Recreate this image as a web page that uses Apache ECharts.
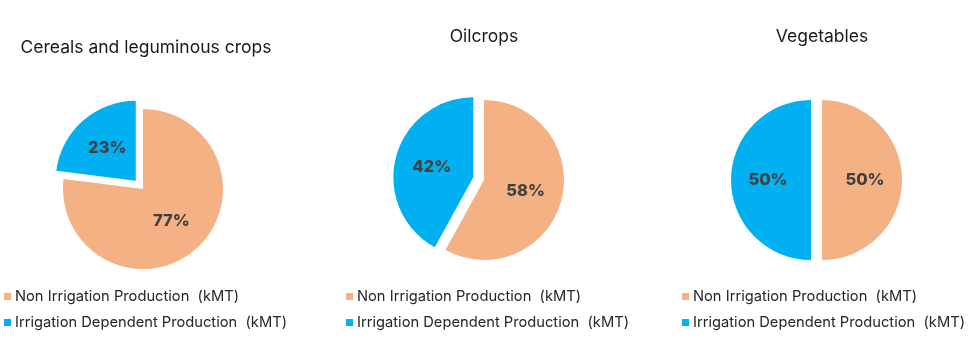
<!DOCTYPE html>
<html>
<head>
<meta charset="utf-8">
<script src="https://cdn.jsdelivr.net/npm/echarts@6/dist/echarts.min.js"></script>
<style>html,body{margin:0;padding:0;background:#fff}#c{width:970px;height:357px}</style>
</head>
<body>
<div id="c"></div>
<script>
const chartTitles = ["Cereals and leguminous crops", "Oilcrops", "Vegetables"];
const categories = ["Non Irrigation Production  (kMT)", "Irrigation Dependent Production  (kMT)"];
const nonIrrigation = [77, 58, 50];
const irrigationDependent = [23, 42, 50];
const colors = ["#F4B183", "#00B0F0"];

const FONT = "Inter";
const centers = [[143, 189], [484, 180], [822, 180]];
const titlePos = [[146, 39], [484, 28], [822, 28]];
const legendPos = [[4, 289], [346, 289], [682, 289]];

const chart = echarts.init(document.getElementById('c'), null, {renderer: 'canvas'});
const option = {
  animation: false,
  color: colors,
  title: chartTitles.map((t, i) => ({
    text: t,
    left: titlePos[i][0], top: titlePos[i][1],
    textAlign: 'center',
    padding: 0,
    textStyle: {fontFamily: FONT, fontSize: 17.5, fontWeight: 'normal', color: '#1a1a1a'}
  })),
  legend: legendPos.map(p => ({
    data: categories,
    orient: 'vertical',
    left: p[0], top: p[1],
    padding: 0,
    itemWidth: 7, itemHeight: 7, itemGap: 11,
    icon: 'rect',
    selectedMode: false,
    textStyle: {fontFamily: FONT, fontSize: 14.7, color: '#262626', padding: [0, 0, 0, -1]}
  })),
  series: chartTitles.map((t, i) => ({
    type: 'pie',
    name: t,
    center: centers[i],
    radius: 80,
    startAngle: 90,
    clockwise: true,
    selectedMode: 'single',
    selectedOffset: 11,
    avoidLabelOverlap: false,
    label: {
      show: true, position: 'inside',
      formatter: '{d}%',
      fontFamily: FONT, fontSize: 16.5, fontWeight: 800, color: '#404040'
    },
    labelLine: {show: false},
    emphasis: {disabled: true},
    data: [
      {name: categories[0], value: nonIrrigation[i], itemStyle: {color: colors[0]}},
      {name: categories[1], value: irrigationDependent[i], selected: true,
       itemStyle: {color: colors[1]}, select: {itemStyle: {color: colors[1]}}}
    ]
  }))
};
chart.setOption(option);
</script>
</body>
</html>
